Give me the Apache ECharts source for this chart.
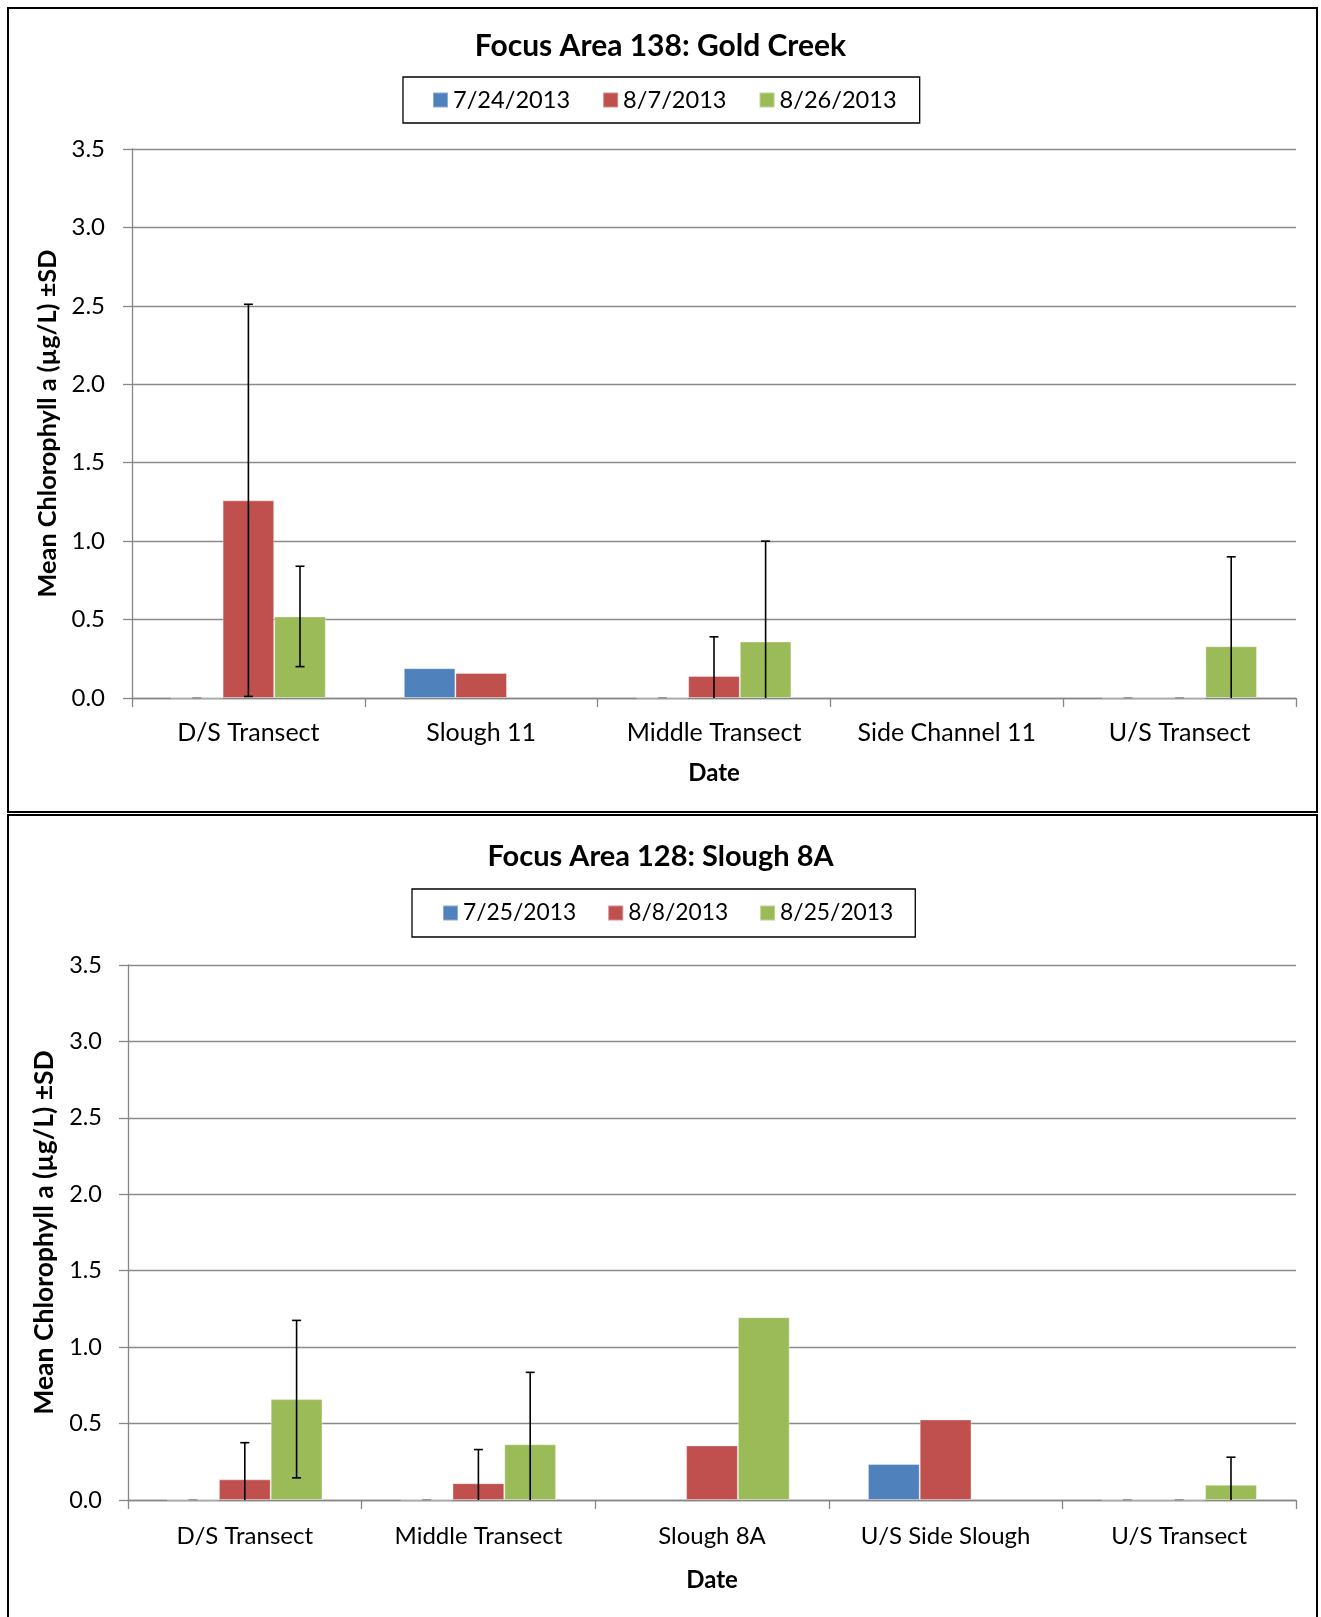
<!DOCTYPE html>
<html>
<head>
<meta charset="utf-8">
<script src="https://cdn.jsdelivr.net/npm/echarts@6/dist/echarts.min.js"></script>
<style>
html,body{margin:0;padding:0;background:#fff;overflow:hidden;}
#c{width:1321px;height:1617px;}
</style>
</head>
<body>
<div id="c"></div>
<script>
// ---------- Data: Focus Area 138 ----------
const topTitle = 'Focus Area 138: Gold Creek';
const topCats = ['D/S Transect', 'Slough 11', 'Middle Transect', 'Side Channel 11', 'U/S Transect'];
const topDates = ['7/24/2013', '8/7/2013', '8/26/2013'];
const topMean1 = [0, 0.19, 0, null, 0];
const topMean2 = [1.26, 0.16, 0.14, null, 0];
const topMean3 = [0.52, null, 0.36, null, 0.33];
const topSD1 = [0, null, 0, null, 0];
const topSD2 = [1.25, null, 0.25, null, 0];
const topSD3 = [0.32, null, 0.64, null, 0.57];

// ---------- Data: Focus Area 128 ----------
const botTitle = 'Focus Area 128: Slough 8A';
const botCats = ['D/S Transect', 'Middle Transect', 'Slough 8A', 'U/S Side Slough', 'U/S Transect'];
const botDates = ['7/25/2013', '8/8/2013', '8/25/2013'];
const botMean1 = [0, 0, null, 0.235, 0];
const botMean2 = [0.135, 0.11, 0.357, 0.527, 0];
const botMean3 = [0.66, 0.365, 1.196, null, 0.10];
const botSD1 = [0, 0, null, null, 0];
const botSD2 = [0.24, 0.22, null, null, 0];
const botSD3 = [0.515, 0.47, null, null, 0.18];

const yTicks = ['0.0', '0.5', '1.0', '1.5', '2.0', '2.5', '3.0', '3.5'];
const yName = 'Mean Chlorophyll a (µg/L) ±SD';
const xName = 'Date';

const colors = ['#4F81BD', '#C0504D', '#9BBB59'];
const FONT = 'Lato';
const GAP = 0.335;

function errData(means, sds, k) {
  const out = [];
  means.forEach((m, i) => {
    if (m !== null && sds[i] !== null) out.push([i, m, sds[i], k]);
  });
  return out;
}

function renderErr(params, api) {
  const ci = api.value(0), mean = api.value(1), sd = api.value(2), k = api.value(3);
  const band = api.size([1, 0])[0];
  const bw = band * (1 - GAP) / 3;
  const cx = api.coord([ci, 0])[0] + (k - 1) * bw;
  const hi = mean + sd;
  const loRaw = mean - sd;
  const lo = Math.max(0, loRaw);
  const yHi = api.coord([ci, hi])[1];
  const yLo = api.coord([ci, lo])[1];
  const cap = 4.5;
  const zero = (sd === 0 && mean === 0);
  const style = {stroke: zero ? '#9a9a9a' : '#000', lineWidth: zero ? 2 : 1.6};
  const ch = [];
  if (!zero) ch.push({type: 'line', shape: {x1: cx, y1: yHi, x2: cx, y2: yLo}, style});
  ch.push({type: 'line', shape: {x1: cx - cap, y1: yHi, x2: cx + cap, y2: yHi}, style});
  if (loRaw >= 0 && !zero) ch.push({type: 'line', shape: {x1: cx - cap, y1: yLo, x2: cx + cap, y2: yLo}, style});
  return {type: 'group', children: ch};
}

function axes(idx, cats, s) {
  const axisColor = '#868686';
  return {
    x: {
      type: 'category', gridIndex: idx, data: cats,
      axisLine: {lineStyle: {color: axisColor, width: 1.3}},
      axisTick: {show: true, length: 9, lineStyle: {color: axisColor, width: 1.3}},
      axisLabel: {color: '#000', fontFamily: FONT, fontSize: s.catSize, margin: s.catMargin},
      name: xName, nameLocation: 'middle', nameGap: s.xGap,
      nameTextStyle: {color: '#000', fontFamily: FONT, fontWeight: 'bold', fontSize: 24}
    },
    y: {
      type: 'value', gridIndex: idx, min: 0, max: 3.5, interval: 0.5,
      axisLine: {show: true, lineStyle: {color: axisColor, width: 1.3}},
      axisTick: {show: true, length: 9, lineStyle: {color: axisColor, width: 1.3}},
      splitLine: {lineStyle: {color: '#8a8a8a', width: 1.4}},
      axisLabel: {color: '#000', fontFamily: FONT, fontSize: s.tickSize, margin: s.tickMargin,
        formatter: v => yTicks[Math.round(v / 0.5)]},
      name: yName, nameLocation: 'middle', nameGap: s.yGap, nameRotate: 90,
      nameTextStyle: {color: '#000', fontFamily: FONT, fontWeight: 'bold', fontSize: s.yNameSize}
    }
  };
}

const a0 = axes(0, topCats, {catSize: 25, catMargin: 22, xGap: 63, tickSize: 24, tickMargin: 27, yGap: 64, yNameSize: 25.3});
const a1 = axes(1, botCats, {catSize: 24, catMargin: 24, xGap: 68, tickSize: 23.5, tickMargin: 26, yGap: 59, yNameSize: 26.5});

function barSeries(name, data, k, idx) {
  return {
    type: 'bar', name, data, xAxisIndex: idx, yAxisIndex: idx,
    barCategoryGap: (GAP * 100) + '%', barGap: '0%',
    itemStyle: {color: colors[k], borderColor: 'rgba(255,255,255,0.35)', borderWidth: 1},
    emphasis: {disabled: true}, animation: false
  };
}
function errSeries(data, idx) {
  return {
    type: 'custom', xAxisIndex: idx, yAxisIndex: idx, data, renderItem: renderErr,
    z: 10, animation: false, silent: true
  };
}

function legendOf(data, left, top, size, gap, pad) {
  return {
    data, left, top, padding: pad,
    orient: 'horizontal', icon: 'rect', itemWidth: 15, itemHeight: 15, itemGap: gap,
    borderColor: '#000', borderWidth: 1.3, backgroundColor: '#fff',
    textStyle: {color: '#000', fontFamily: FONT, fontSize: size, lineHeight: 26},
    selectedMode: false
  };
}

const option = {
  animation: false,
  title: [
    {text: topTitle, left: 'center', top: 26,
      textStyle: {fontFamily: FONT, fontWeight: 'bold', fontSize: 30, color: '#000'}},
    {text: botTitle, left: 'center', top: 837,
      textStyle: {fontFamily: FONT, fontWeight: 'bold', fontSize: 29, color: '#000'}}
  ],
  legend: [
    legendOf(topDates, 403, 77, 23.6, 32, [10, 23, 10, 29]),
    legendOf(botDates, 412, 889, 22.8, 31, [11, 22, 11, 30])
  ],
  grid: [
    {left: 132, top: 149, width: 1164, height: 549},
    {left: 128, top: 965, width: 1168, height: 535}
  ],
  xAxis: [a0.x, a1.x],
  yAxis: [a0.y, a1.y],
  graphic: [
    {type: 'rect', shape: {x: 8, y: 8, width: 1309, height: 804}, style: {fill: 'none', stroke: '#000', lineWidth: 2}, z: -1},
    {type: 'rect', shape: {x: 8, y: 815, width: 1309, height: 820}, style: {fill: 'none', stroke: '#000', lineWidth: 2}, z: -1}
  ],
  series: [
    barSeries(topDates[0], topMean1, 0, 0),
    barSeries(topDates[1], topMean2, 1, 0),
    barSeries(topDates[2], topMean3, 2, 0),
    errSeries(errData(topMean1, topSD1, 0).concat(errData(topMean2, topSD2, 1), errData(topMean3, topSD3, 2)), 0),
    barSeries(botDates[0], botMean1, 0, 1),
    barSeries(botDates[1], botMean2, 1, 1),
    barSeries(botDates[2], botMean3, 2, 1),
    errSeries(errData(botMean1, botSD1, 0).concat(errData(botMean2, botSD2, 1), errData(botMean3, botSD3, 2)), 1)
  ]
};

const chart = echarts.init(document.getElementById('c'), null, {renderer: 'canvas'});
chart.setOption(option);
</script>
</body>
</html>
